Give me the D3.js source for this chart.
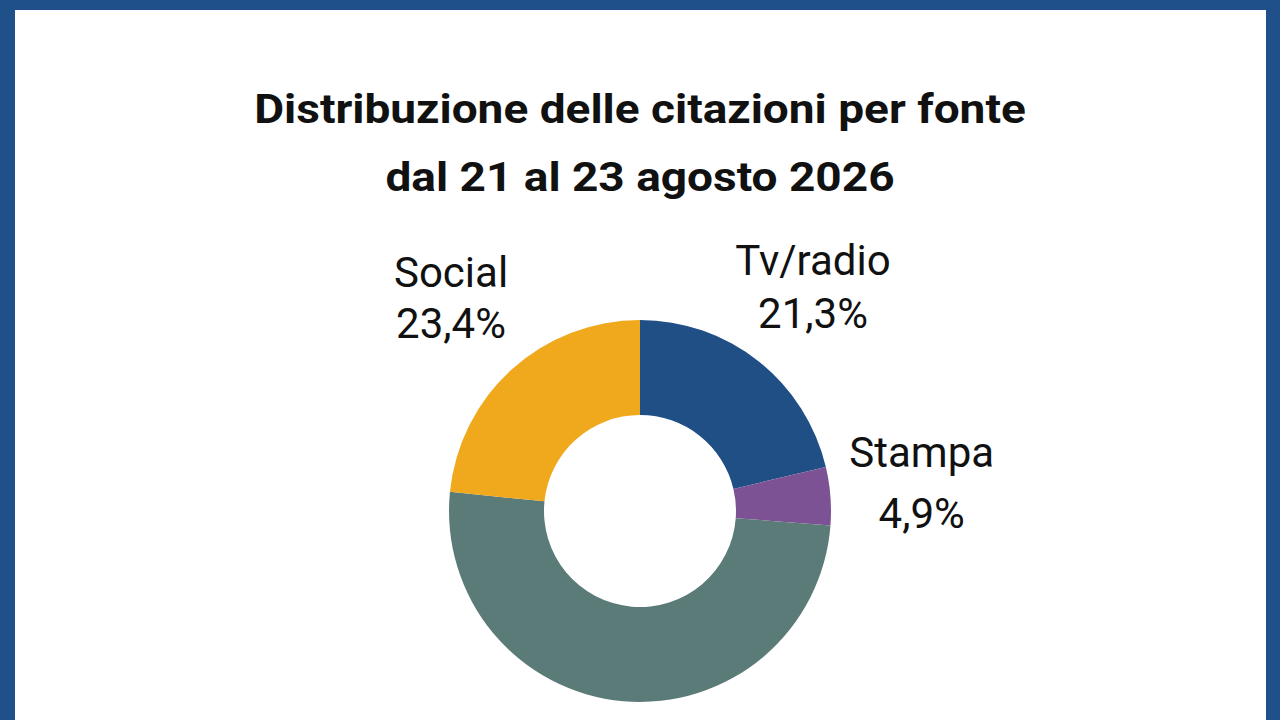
<!DOCTYPE html>
<html>
<head>
<meta charset="utf-8">
<script src="https://cdn.jsdelivr.net/npm/d3@7"></script>
<style>
  html, body { margin: 0; padding: 0; background: #1f5089; }
  svg { display: block; }
  text { font-family: Roboto, "Noto Sans", sans-serif; fill: #111; }
</style>
</head>
<body>
<div id="chart"></div>
<script>
// data
const categories = ["Tv/radio", "Stampa", "Web", "Social"]
const shares = [21.3, 4.9, 50.4, 23.4]
const colors = ["#1f4f85", "#7c5295", "#5b7b78", "#f0a91c"]
const titleLines = ["Distribuzione delle citazioni per fonte", "dal 21 al 23 agosto 2026"]

// label placement (angle in degrees from 12 o'clock, distance from centre, line gap)
// the Web label sits below the visible area, so it is left out
const labelLayout = {
    "Tv/radio": {angle: 39.5, dist: 272, gap: 53},
    "Stampa": {angle: 87.3, dist: 282, gap: 61},
    "Social": {angle: 316.4, dist: 274, gap: 51}
}

const width = 1280
const height = 720
const panel = {left: 15, top: 10, right: 1266}
const cx = 640, cy = 511
const outerR = 191, innerR = 96

const svg = d3.select("#chart")
    .append("svg")
    .attr("width", width)
    .attr("height", height)

svg.append("rect")
    .attr("x", panel.left)
    .attr("y", panel.top)
    .attr("width", panel.right - panel.left)
    .attr("height", height - panel.top)
    .attr("fill", "#fff")

// title is drawn slightly stretched, like the original image
svg.selectAll(".title")
    .data(titleLines)
    .enter()
    .append("text")
    .attr("class", "title")
    .attr("transform", (d, i) => `translate(${cx}, ${123 + i * 68}) scale(1.15, 1)`)
    .attr("text-anchor", "middle")
    .attr("font-size", 40)
    .attr("font-weight", 700)
    .text(d => d)

const data = categories.map((c, i) => ({name: c, value: shares[i], color: colors[i]}))

const pie = d3.pie()
    .sort(null)
    .value(d => d.value)

const arc = d3.arc()
    .innerRadius(innerR)
    .outerRadius(outerR)

const g = svg.append("g")
    .attr("transform", `translate(${cx}, ${cy})`)

g.selectAll(".slice")
    .data(pie(data))
    .enter()
    .append("path")
    .attr("class", "slice")
    .attr("fill", d => d.data.color)
    .attr("d", arc)

const fmt = v => d3.format(".1f")(v).replace(".", ",") + "%"

const labels = g.selectAll(".label")
    .data(pie(data).filter(d => labelLayout[d.data.name]))
    .enter()
    .append("text")
    .attr("class", "label")
    .attr("text-anchor", "middle")
    .attr("font-size", 42)
    .attr("transform", d => {
        const l = labelLayout[d.data.name]
        const a = l.angle * Math.PI / 180
        return `translate(${Math.sin(a) * l.dist}, ${-Math.cos(a) * l.dist})`
    })

labels.append("tspan")
    .attr("x", 0)
    .attr("y", d => -labelLayout[d.data.name].gap / 2)
    .text(d => d.data.name)

labels.append("tspan")
    .attr("x", 0)
    .attr("y", d => labelLayout[d.data.name].gap / 2)
    .text(d => fmt(d.data.value))
</script>
</body>
</html>
